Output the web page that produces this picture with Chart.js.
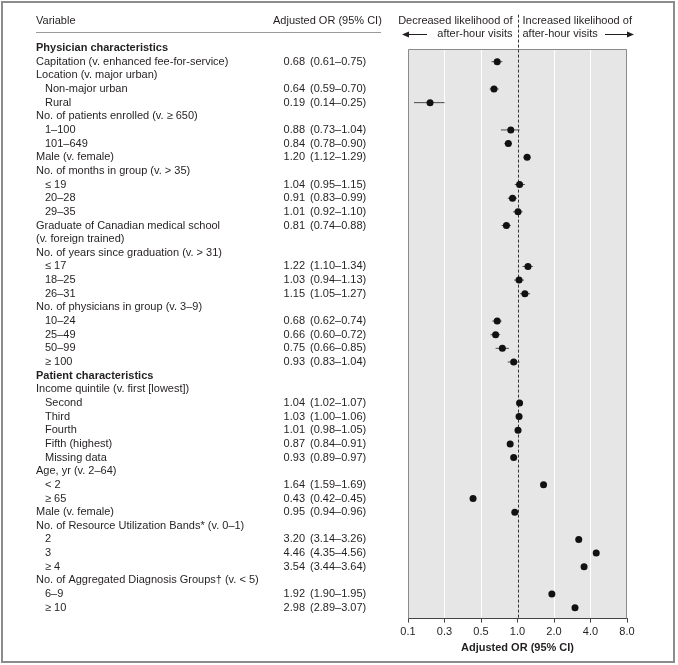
<!DOCTYPE html>
<html>
<head>
<meta charset="utf-8">
<script src="https://cdn.jsdelivr.net/npm/chart.js@4/dist/chart.umd.min.js"></script>
<style>
html,body{margin:0;padding:0;background:#fff;}
#wrap{width:678px;height:665px;position:relative;}
</style>
</head>
<body>
<div id="wrap"><canvas id="c" width="678" height="665"></canvas></div>
<script>
// ---- data ----
const rowLabels = [
  'Physician characteristics',
  'Capitation (v. enhanced fee-for-service)',
  'Location (v. major urban)',
  'Non-major urban',
  'Rural',
  'No. of patients enrolled (v. \u2265 650)',
  '1\u2013100',
  '101\u2013649',
  'Male (v. female)',
  'No. of months in group (v. > 35)',
  '\u2264 19',
  '20\u201328',
  '29\u201335',
  'Graduate of Canadian medical school',
  '(v. foreign trained)',
  'No. of years since graduation (v. > 31)',
  '\u2264 17',
  '18\u201325',
  '26\u201331',
  'No. of physicians in group (v. 3\u20139)',
  '10\u201324',
  '25\u201349',
  '50\u201399',
  '\u2265 100',
  'Patient characteristics',
  'Income quintile (v. first [lowest])',
  'Second',
  'Third',
  'Fourth',
  'Fifth (highest)',
  'Missing data',
  'Age, yr (v. 2\u201364)',
  '< 2',
  '\u2265 65',
  'Male (v. female)',
  'No. of Resource Utilization Bands* (v. 0\u20131)',
  '2',
  '3',
  '\u2265 4',
  'No. of Aggregated Diagnosis Groups\u2020 (v. < 5)',
  '6\u20139',
  '\u2265 10'
];
const rowIndent = [0,0,0,1,1,0,1,1,0,0,1,1,1,0,0,0,1,1,1,0,1,1,1,1,0,0,1,1,1,1,1,0,1,1,0,0,1,1,1,0,1,1];
const boldRows = [0, 24];
const orValues = [null,0.68,null,0.64,0.19,null,0.88,0.84,1.20,null,1.04,0.91,1.01,0.81,null,null,1.22,1.03,1.15,null,0.68,0.66,0.75,0.93,null,null,1.04,1.03,1.01,0.87,0.93,null,1.64,0.43,0.95,null,3.20,4.46,3.54,null,1.92,2.98];
const ciLow  = [null,0.61,null,0.59,0.14,null,0.73,0.78,1.12,null,0.95,0.83,0.92,0.74,null,null,1.10,0.94,1.05,null,0.62,0.60,0.66,0.83,null,null,1.02,1.00,0.98,0.84,0.89,null,1.59,0.42,0.94,null,3.14,4.35,3.44,null,1.90,2.89];
const ciHigh = [null,0.75,null,0.70,0.25,null,1.04,0.90,1.29,null,1.15,0.99,1.10,0.88,null,null,1.34,1.13,1.27,null,0.74,0.72,0.85,1.04,null,null,1.07,1.06,1.05,0.91,0.97,null,1.69,0.45,0.96,null,3.26,4.56,3.64,null,1.95,3.07];
const tickValues = [0.125, 0.25, 0.5, 1, 2, 4, 8];
const tickLabels = ['0.1','0.3','0.5','1.0','2.0','4.0','8.0'];
const axisTitle = 'Adjusted OR (95% CI)';
const headerVar = 'Variable';
const headerOR = 'Adjusted OR (95% CI)';
const leftNote = ['Decreased likelihood of', 'after-hour visits'];
const rightNote = ['Increased likelihood of', 'after-hour visits'];

// ---- build datasets ----
const fmt = v => v.toFixed(2);
const points = [];
const bars = [];
orValues.forEach((v, i) => {
  if (v === null) return;
  points.push({x: v, y: i});
  bars.push({x: ciLow[i], y: i}, {x: ciHigh[i], y: i}, {x: null, y: null});
});

const FONT = '"Liberation Sans", Arial, sans-serif';
const TXT = '#231f20';

const decor = {
  id: 'decor',
  beforeDraw(chart) {
    const {ctx, chartArea: a} = chart;
    ctx.save();
    ctx.fillStyle = '#e6e6e6';
    ctx.fillRect(a.left, a.top, a.right - a.left, a.bottom - a.top);
    ctx.restore();
  },
  beforeDatasetsDraw(chart) {
    const {ctx, chartArea: a} = chart;
    const xs = chart.scales.x, ys = chart.scales.y;
    ctx.save();
    // box edges
    ctx.strokeStyle = '#8a8a8a';
    ctx.lineWidth = 1;
    ctx.beginPath();
    ctx.moveTo(a.left + 0.5, a.bottom);
    ctx.lineTo(a.left + 0.5, a.top + 0.5);
    ctx.lineTo(a.right - 0.5, a.top + 0.5);
    ctx.lineTo(a.right - 0.5, a.bottom);
    ctx.stroke();
    // reference line at OR = 1
    const x1 = Math.round(xs.getPixelForValue(1)) + 0.5;
    ctx.strokeStyle = '#333';
    ctx.setLineDash([3, 2]);
    ctx.beginPath();
    ctx.moveTo(x1, ys.getPixelForValue(-2.45));
    ctx.lineTo(x1, a.bottom);
    ctx.stroke();
    ctx.restore();
  },
  afterDraw(chart) {
    const {ctx} = chart;
    const xs = chart.scales.x, ys = chart.scales.y;
    ctx.save();
    // outer frame
    ctx.strokeStyle = '#8c8c8c';
    ctx.lineWidth = 2;
    ctx.strokeRect(2, 2, 672, 660);
    ctx.fillStyle = TXT;
    ctx.textBaseline = 'middle';
    // headers
    ctx.font = '11px ' + FONT;
    const hy = ys.getPixelForValue(-2);
    const hy2 = ys.getPixelForValue(-1);
    ctx.textAlign = 'left';
    ctx.fillText(headerVar, 36, hy);
    ctx.fillText(headerOR, 273, hy);
    ctx.strokeStyle = '#9a9a9a';
    ctx.lineWidth = 1;
    ctx.beginPath();
    ctx.moveTo(36, 32.5); ctx.lineTo(381, 32.5);
    ctx.stroke();
    // direction notes
    const x1 = xs.getPixelForValue(1);
    ctx.textAlign = 'right';
    ctx.fillText(leftNote[0], x1 - 5, hy);
    ctx.fillText(leftNote[1], x1 - 5, hy2);
    ctx.textAlign = 'left';
    ctx.fillText(rightNote[0], x1 + 5, hy);
    ctx.fillText(rightNote[1], x1 + 5, hy2);
    // arrows
    ctx.strokeStyle = TXT; ctx.fillStyle = TXT; ctx.lineWidth = 1;
    const ay = Math.round(hy2) + 0.5;
    ctx.beginPath(); ctx.moveTo(406, ay); ctx.lineTo(427, ay); ctx.stroke();
    ctx.beginPath(); ctx.moveTo(402, ay); ctx.lineTo(409, ay - 3); ctx.lineTo(409, ay + 3); ctx.closePath(); ctx.fill();
    ctx.beginPath(); ctx.moveTo(605, ay); ctx.lineTo(630, ay); ctx.stroke();
    ctx.beginPath(); ctx.moveTo(634, ay); ctx.lineTo(627, ay - 3); ctx.lineTo(627, ay + 3); ctx.closePath(); ctx.fill();
    // table rows
    rowLabels.forEach((lab, i) => {
      const y = ys.getPixelForValue(i);
      ctx.fillStyle = TXT;
      ctx.font = (boldRows.includes(i) ? 'bold ' : '') + '11px ' + FONT;
      ctx.textAlign = 'left';
      ctx.fillText(lab, rowIndent[i] ? 45 : 36, y);
      if (orValues[i] !== null) {
        ctx.font = '11px ' + FONT;
        ctx.textAlign = 'right';
        ctx.fillText(fmt(orValues[i]), 305, y);
        ctx.textAlign = 'left';
        ctx.fillText('(' + fmt(ciLow[i]) + '\u2013' + fmt(ciHigh[i]) + ')', 310, y);
      }
    });
    ctx.restore();
  }
};

new Chart(document.getElementById('c'), {
  type: 'scatter',
  data: {
    datasets: [
      {
        label: 'OR',
        data: points,
        pointRadius: 3.5,
        pointHoverRadius: 3.5,
        pointBackgroundColor: '#111',
        pointBorderColor: '#111',
        pointBorderWidth: 0,
        showLine: false
      },
      {
        label: '95% CI',
        data: bars,
        showLine: true,
        spanGaps: false,
        borderColor: '#4a4a4a',
        borderWidth: 1,
        pointRadius: 0,
        pointHoverRadius: 0
      }
    ]
  },
  options: {
    responsive: false,
    animation: false,
    events: [],
    layout: {padding: {left: 408, right: 51, top: 49, bottom: 10}},
    plugins: {legend: {display: false}, tooltip: {enabled: false}},
    scales: {
      x: {
        type: 'logarithmic',
        min: tickValues[0],
        max: tickValues[tickValues.length - 1],
        afterBuildTicks(scale) {
          scale.ticks = tickValues.map(v => ({value: v}));
        },
        ticks: {
          autoSkip: false,
          maxRotation: 0,
          color: TXT,
          font: {family: FONT, size: 11},
          padding: 3,
          callback(value) {
            const k = tickValues.indexOf(value);
            return k >= 0 ? tickLabels[k] : '';
          }
        },
        grid: {
          drawOnChartArea: true,
          color(ctx) {
            const v = ctx.tick && ctx.tick.value;
            if (v === 1 || v === tickValues[0] || v === tickValues[tickValues.length - 1]) return 'rgba(0,0,0,0)';
            return '#ffffff';
          },
          tickColor: '#444',
          tickLength: 4,
          lineWidth: 1
        },
        border: {display: true, color: '#444', width: 1},
        title: {
          display: true,
          text: axisTitle,
          color: TXT,
          font: {family: FONT, size: 11, weight: 'bold'},
          padding: {top: 0, bottom: 0}
        }
      },
      y: {
        type: 'linear',
        reverse: true,
        min: 0.07,
        max: 41.8,
        display: false
      }
    }
  },
  plugins: [decor]
});
</script>
</body>
</html>
